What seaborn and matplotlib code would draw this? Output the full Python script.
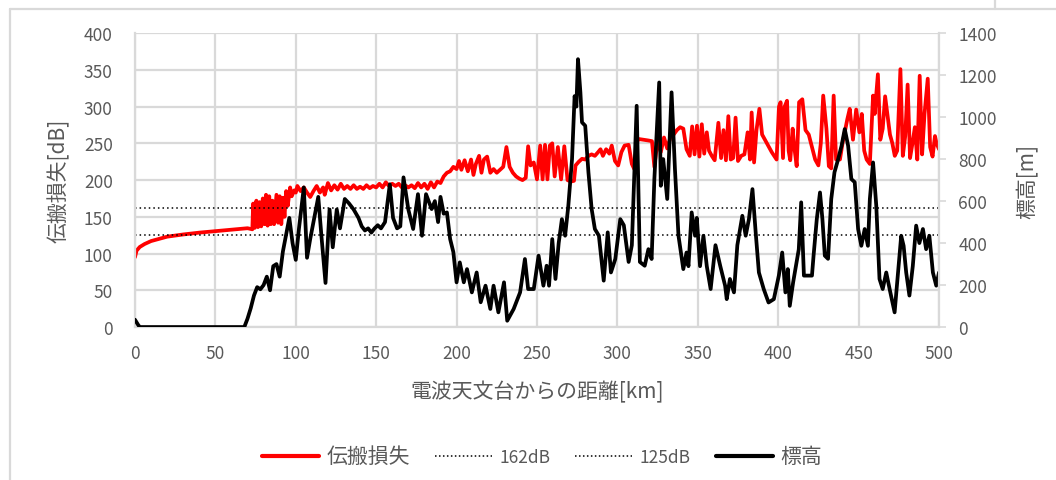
import numpy as np
import pandas as pd
import matplotlib
matplotlib.use('Agg')
import matplotlib.pyplot as plt
from matplotlib.lines import Line2D
import seaborn as sns

# 伝搬損失 [dB]（距離km と 値、行ごとに対応）
loss_km = [0, 1, 3, 6, 10, 15, 20, 30, 40, 50, 60, 70, 73,
           73.5, 74.5, 75.5, 76.5, 77.5, 78.5, 79.5, 80.5, 81.5, 82.5, 83.5, 84.5, 85.5, 86.5,
           88, 89, 90, 91, 92, 93, 94, 95, 96.5, 97.5, 99, 100, 101, 103, 105, 107, 109, 111,
           113, 115, 117, 118, 120, 122, 124, 126, 128, 130, 132, 134, 136, 138, 140, 142,
           144, 146, 148, 150, 152, 154, 156, 158, 160, 162, 164, 166, 168, 170, 172, 174,
           176, 178, 180, 182, 184, 186, 188, 190, 192, 194, 196, 198, 200, 201.5, 203, 205,
           207, 209, 210.5, 212, 214, 215.5, 217, 219, 221, 223, 225, 227, 229, 231, 233, 235,
           237, 239, 241, 243, 244.5, 246, 248, 250, 252, 253.5, 255, 256.5, 258, 259.5, 261,
           263, 265, 267, 269, 271, 273, 274, 276, 278, 280, 282, 284, 286, 288, 289.5, 291,
           293, 295, 296.5, 298.5, 300.5, 302.5, 304.5, 307, 309, 310.5, 312, 313, 316, 319,
           321.5, 323, 325, 327, 329, 331, 333, 335, 337, 339, 341, 343, 345, 346.5, 348,
           349.5, 351, 352.5, 354, 355.6, 357, 358.7, 360.5, 362.8, 364.5, 366, 367.5, 369, 370.5, 372,
           373.5, 375, 377, 379, 381, 382.5, 383.5, 385, 386.5, 388.3, 390, 393, 396, 399, 400.5,
           401.5, 403, 404, 405.5, 406.5, 407.5, 409, 410, 411.5, 413, 415, 417, 419, 421, 423,
           425, 426.5, 428, 430, 431.5, 433, 434.5, 436, 438.4, 440, 443, 444.5, 446.5, 448.5, 450.5,
           452, 453.5, 455, 457, 459, 460, 462, 463.5, 465, 466.5, 468, 469.5, 471, 472.5,
           474, 476, 477.5, 479, 480.5, 482, 483.5, 485, 486.5, 488, 489.5, 491, 493,
           494.5, 496, 497.5, 498.5, 500]
loss_db = [95, 104, 109, 113, 117, 120, 123, 126, 128.5, 130.5, 132.5, 134.5, 133,
           168, 135, 172, 136, 170, 137, 175, 140, 180, 138, 178, 140, 172, 140,
           180, 142, 178, 140, 176, 150, 185, 165, 190, 178, 186, 183, 192, 185, 190, 183, 177, 185,
           192, 183, 190, 180, 196, 186, 193, 187, 195, 188, 192, 188, 193, 188, 191, 188,
           193, 189, 192, 190, 195, 190, 197, 192, 195, 192, 195, 190, 193, 190, 193, 189,
           196, 190, 195, 188, 197, 190, 198, 196, 205, 210, 212, 218, 215, 226, 214, 227,
           212, 228, 207, 222, 233, 210, 228, 232, 210, 215, 210, 214, 218, 245, 218, 210,
           205, 202, 200, 203, 246, 220, 224, 201, 247, 201, 248, 201, 247, 250, 205,
           245, 201, 246, 200, 198, 199, 220, 225, 229, 228, 233, 235, 233, 238, 242, 233,
           242, 236, 247, 226, 220, 238, 247, 248, 222, 215, 250, 256, 255, 254,
           253, 218, 255, 238, 258, 243, 258, 262, 268, 272, 270, 242, 233, 273, 235,
           274, 232, 276, 236, 265, 240, 233, 227, 278, 230, 268, 227, 287, 228, 230,
           285, 226, 233, 235, 265, 228, 292, 224, 268, 297, 262, 250, 238, 228, 300,
           306, 230, 300, 308, 240, 227, 270, 245, 219, 306, 310, 268, 262, 245, 228,
           220, 250, 315, 270, 219, 216, 315, 228, 228, 250, 283, 297, 255, 296, 265,
           290, 240, 228, 222, 315, 290, 344, 255, 270, 314, 288, 262, 250, 233,
           240, 351, 233, 260, 330, 230, 250, 272, 228, 342, 235, 290, 338,
           245, 232, 260, 250, 242]

# 標高 [m]（距離km と 値、行ごとに対応）
elev_km = [0, 2, 3, 68, 70, 72, 74, 76, 78, 80,
           82, 84, 86, 88, 90, 92, 94, 96, 98, 100,
           102, 105, 107, 109, 111, 114, 116, 118.5, 121, 123,
           125.5, 127.5, 130.5, 133, 136, 139, 141, 143, 145, 147,
           149, 151, 153, 155.5, 158.5, 160.5, 163, 165, 167, 170,
           173, 176, 178.5, 181, 184.5, 186.5, 188.5, 190, 192, 194,
           196, 198, 200, 202, 204.5, 206.5, 209.5, 212.5, 215, 218,
           221, 223, 226, 229.5, 231.5, 235.5, 239.5, 242.5, 244.5, 248,
           251, 254, 256, 257.5, 259.5, 261.5, 263.5, 265.5, 267.5, 269.5,
           271.8, 273.4, 274.5, 275.5, 277, 278, 280, 282, 284, 286,
           288.5, 290.5, 291.5, 294, 296, 298.7, 301.8, 304, 307, 309,
           312, 314, 317, 319.3, 321.3, 323, 326, 327, 328.5, 331,
           333.7, 335.8, 338, 341, 343, 344.2, 346.2, 348.3, 349.4, 351.4,
           353.5, 355.6, 358, 361, 364, 367, 368, 370, 372.5, 374.6,
           377.7, 379.8, 381.8, 384, 386, 388, 391, 394, 397.3, 400.4,
           402.5, 404.5, 406, 407.2, 409.3, 411.4, 412.8, 414.3, 416, 421,
           422, 424, 426, 427.5, 429, 431, 433, 435, 437.3, 439.4,
           441.4, 443.5, 445.5, 447.6, 449.7, 451.7, 453.8, 455.8, 457, 459,
           461, 463, 465, 467.2, 469.3, 472.4, 474.5, 476.5, 478, 479.6,
           481.6, 483.7, 485.8, 487.8, 490, 492, 494, 496.2, 498.3, 500]
elev_m = [35, 10, 0, 0, 40, 90, 150, 190, 180, 200,
          240, 175, 290, 300, 240, 360, 440, 520, 400, 320,
          470, 665, 330, 420, 500, 620, 430, 210, 560, 380,
          560, 470, 610, 590, 560, 520, 480, 460, 470, 450,
          470, 485, 470, 500, 680, 520, 470, 480, 713, 560,
          467, 633, 435, 633, 562, 600, 500, 620, 540, 546,
          419, 357, 213, 308, 213, 276, 165, 260, 118, 197,
          86, 197, 70, 213, 30, 86, 165, 324, 181, 181,
          340, 197, 292, 197, 419, 229, 400, 514, 435, 578,
          800, 1100, 1050, 1276, 1118, 975, 959, 737, 562, 467,
          435, 292, 221, 451, 260, 324, 514, 485, 310, 390,
          1054, 310, 292, 371, 324, 705, 1165, 673, 800, 610,
          1118, 752, 435, 276, 355, 290, 546, 435, 520, 290,
          435, 290, 181, 390, 290, 197, 133, 229, 165, 390,
          530, 435, 514, 657, 451, 260, 181, 117, 133, 245,
          355, 165, 276, 101, 213, 308, 370, 594, 245, 245,
          340, 514, 641, 514, 340, 325, 610, 737, 800, 863,
          943, 863, 705, 690, 467, 387, 467, 387, 610, 784,
          578, 229, 181, 260, 181, 70, 260, 435, 387, 260,
          150, 290, 483, 400, 467, 371, 435, 260, 197, 260]

thresholds = [162, 125]
threshold_labels = ['162dB', '125dB']

loss_df = pd.DataFrame({'km': loss_km, 'db': loss_db})
elev_df = pd.DataFrame({'km': elev_km, 'm': elev_m})

sns.set_style('white')
plt.rcParams['font.family'] = ['Noto Sans CJK JP', 'DejaVu Sans']

grey = '#595959'
gridc = '#d9d9d9'

fig = plt.figure(figsize=(10.56, 4.81), dpi=100)
ax = fig.add_axes([0.1278, 0.318, 0.7614, 0.611])
ax2 = ax.twinx()

sns.lineplot(data=loss_df, x='km', y='db', ax=ax, color='#ff0000', lw=2.7,
             estimator=None, sort=False)
for t in thresholds:
    ax.axhline(t, color='black', lw=1.1, ls=(0, (1, 2)))
sns.lineplot(data=elev_df, x='km', y='m', ax=ax2, color='black', lw=2.7,
             estimator=None, sort=False)

ax.set_xlim(0, 500)
ax.set_ylim(0, 400)
ax.set_xticks(range(0, 501, 50))
ax.set_yticks(range(0, 401, 50))
ax2.set_ylim(0, 1400)
ax2.set_yticks(range(0, 1401, 200))

ax.grid(True, color=gridc, lw=1.6)
ax.set_axisbelow(True)
ax2.grid(False)

for a in (ax, ax2):
    for s in a.spines.values():
        s.set_visible(False)
for name, a in (('bottom', ax), ('left', ax), ('right', ax2)):
    a.spines[name].set_visible(True)
    a.spines[name].set_color(gridc)
    a.spines[name].set_linewidth(1.6)

ax.tick_params(axis='x', length=0, labelsize=12.5, labelcolor=grey, pad=12)
ax.tick_params(axis='y', length=0, labelsize=12.5, labelcolor=grey, pad=16)
ax2.tick_params(axis='y', length=5, width=1.2, color=gridc, labelsize=12.5,
                labelcolor=grey, pad=9)

ax.set_xlabel('電波天文台からの距離[km]', fontsize=15, color=grey, labelpad=13)
ax.set_ylabel('伝搬損失[dB]', fontsize=15, color=grey, labelpad=10)
ax2.set_ylabel('標高[m]', fontsize=15, color=grey, labelpad=14)

handles = [Line2D([], [], color='#ff0000', lw=3),
           Line2D([], [], color='black', lw=1.1, ls=(0, (1, 1.6))),
           Line2D([], [], color='black', lw=1.1, ls=(0, (1, 1.6))),
           Line2D([], [], color='black', lw=3)]
labels = ['伝搬損失'] + threshold_labels + ['標高']
leg = fig.legend(handles, labels, loc='center', bbox_to_anchor=(0.513, 0.05), ncol=4,
                 frameon=False, fontsize=12.5, handlelength=3.3, columnspacing=1.45,
                 handletextpad=0.4)
for txt, lab in zip(leg.get_texts(), labels):
    txt.set_color(grey)
    if lab in ('伝搬損失', '標高'):
        txt.set_fontsize(15)

# 外枠の一部
fig.add_artist(Line2D([10 / 1056, 10 / 1056], [0, 1 - 10 / 481], color=gridc, lw=1.6,
                      transform=fig.transFigure))
fig.add_artist(Line2D([10 / 1056, 1], [1 - 10 / 481, 1 - 10 / 481], color=gridc, lw=1.6,
                      transform=fig.transFigure))
fig.add_artist(Line2D([995 / 1056, 995 / 1056], [1 - 10 / 481, 1], color=gridc, lw=1.6,
                      transform=fig.transFigure))

fig.savefig('out.png', dpi=100)
